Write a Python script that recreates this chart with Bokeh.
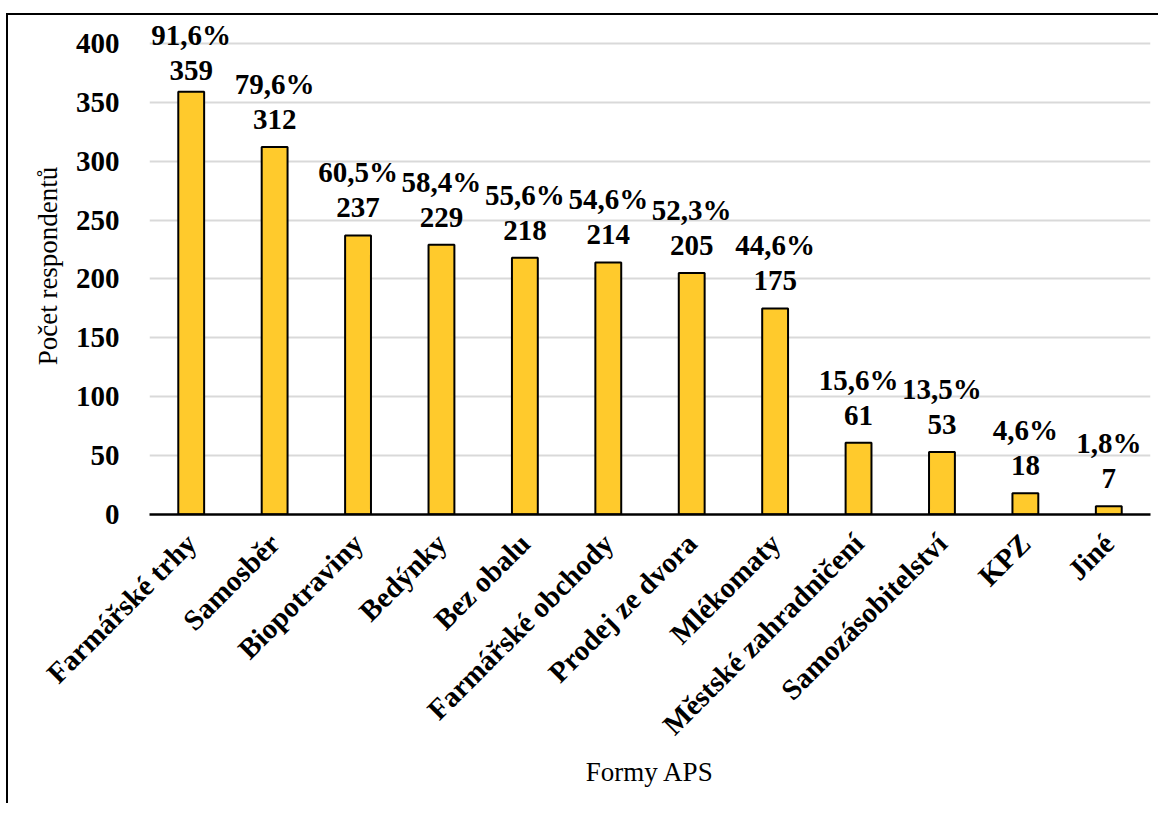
from math import pi
from bokeh.plotting import figure
from bokeh.models import ColumnDataSource, Range1d, FixedTicker, LabelSet
from bokeh.embed import file_html
from bokeh.resources import INLINE

categories = ["Farmářské trhy", "Samosběr", "Biopotraviny", "Bedýnky", "Bez obalu",
              "Farmářské obchody", "Prodej ze dvora", "Mlékomaty", "Městské zahradničení",
              "Samozásobitelství", "KPZ", "Jiné"]
counts = [359, 312, 237, 229, 218, 214, 205, 175, 61, 53, 18, 7]
percents = ["91,6%", "79,6%", "60,5%", "58,4%", "55,6%", "54,6%", "52,3%", "44,6%",
            "15,6%", "13,5%", "4,6%", "1,8%"]
y_ticks = [0, 50, 100, 150, 200, 250, 300, 350, 400]

FONT = "Liberation Serif"
Y_MAX = 422
# like Excel, labels that would leave the plot area are pushed down to fit inside
label_y = [min(c, Y_MAX - 68) for c in counts]

src = ColumnDataSource(data=dict(cat=categories, count=counts, pct=percents, label_y=label_y,
                                 count_txt=[str(c) for c in counts]))

p = figure(x_range=categories, y_range=Range1d(0, Y_MAX), width=1152, height=790,
           output_backend="svg", toolbar_location=None,
           min_border_left=141, min_border_right=10, min_border_top=2, min_border_bottom=291,
           styles={"border-left": "2px solid black", "border-top": "2px solid black",
                   "margin-left": "6px", "margin-top": "13px"})
p.outline_line_color = None
p.background_fill_color = "white"
p.border_fill_color = "white"

p.vbar(x="cat", top="count", width=0.31, source=src, fill_color="#FFCA2C",
       line_color="black", line_width=2)

p.yaxis.ticker = FixedTicker(ticks=y_ticks)
p.ygrid.grid_line_color = "#D9D9D9"
p.ygrid.grid_line_width = 2
p.xgrid.grid_line_color = None

p.yaxis.axis_line_color = None
p.yaxis.major_tick_line_color = None
p.yaxis.minor_tick_line_color = None
p.yaxis.major_label_standoff = 24
p.yaxis.major_label_text_font = FONT
p.yaxis.major_label_text_font_style = "bold"
p.yaxis.major_label_text_font_size = "29px"
p.yaxis.major_label_text_color = "black"
p.yaxis.axis_label = "Počet respondentů"
p.yaxis.axis_label_text_font = FONT
p.yaxis.axis_label_text_font_style = "normal"
p.yaxis.axis_label_text_font_size = "27px"
p.yaxis.axis_label_text_color = "black"
p.yaxis.axis_label_standoff = 10

p.xaxis.axis_line_color = "black"
p.xaxis.axis_line_width = 2.5
p.xaxis.major_tick_line_color = None
p.xaxis.minor_tick_line_color = None
p.xaxis.major_label_orientation = pi / 4
p.xaxis.major_label_standoff = 18
p.xaxis.major_label_text_font = FONT
p.xaxis.major_label_text_font_style = "bold"
p.xaxis.major_label_text_font_size = "29px"
p.xaxis.major_label_text_color = "black"
p.xaxis.axis_label = "Formy APS"
p.xaxis.axis_label_text_font = FONT
p.xaxis.axis_label_text_font_style = "normal"
p.xaxis.axis_label_text_font_size = "27px"
p.xaxis.axis_label_text_color = "black"
p.xaxis.axis_label_standoff = 2

lab_counts = LabelSet(x="cat", y="label_y", text="count_txt", source=src,
                      text_align="center", text_baseline="alphabetic", y_offset=18,
                      text_font=FONT, text_font_style="bold", text_font_size="29px",
                      text_color="black")
lab_pct = LabelSet(x="cat", y="label_y", text="pct", source=src,
                   text_align="center", text_baseline="alphabetic", y_offset=53,
                   text_font=FONT, text_font_style="bold", text_font_size="29px",
                   text_color="black")
p.add_layout(lab_counts)
p.add_layout(lab_pct)

open("out.html", "w").write(file_html(p, INLINE))
